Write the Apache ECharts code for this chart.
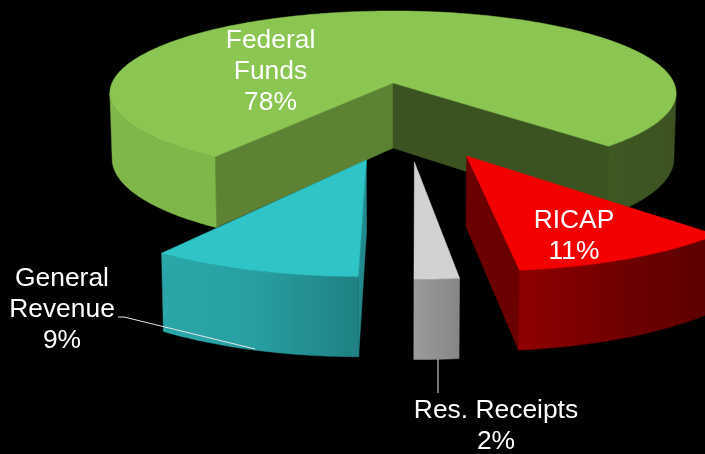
<!DOCTYPE html>
<html><head><meta charset="utf-8">
<style>html,body{margin:0;padding:0;background:#000}#c{width:705px;height:454px}</style>
<script src="https://cdn.jsdelivr.net/npm/echarts@6/dist/echarts.min.js"></script>
</head><body><div id="c"></div>
<script>
// Data: shares (drawn order: back to front)
var categories = ['Federal Funds', 'General Revenue', 'Res. Receipts', 'RICAP'];
var shares = [78.01, 9.49, 2, 10.5];
var labelLines = [['Federal', 'Funds', '78%'], ['General', 'Revenue', '9%'], ['Res. Receipts', '2%'], ['RICAP', '11%']];

// Projection of the pie's plane on the screen
var originX = 393, originY = 83, radiusX = 281, radiusY = 80.8, perspective = 0.122, thickness = 65, thicknessGrowth = 0.8, bottomScale = 0.992;
var lastAngle = 495.6; // clockwise from 12 o'clock
var explode = [[0, 0], [-0.085, 0.854], [0.068, 0.873], [0.236, 0.814]];
var topColors = ['#8bc652', '#2fc4c5', '#d2d2d2', '#f50000'];
var startCut = ['#5d8233', '#22898c', null, null];
var endCut = ['#3b5320', null, null, '#6a0000'];
var wallColors = [
  [[0, '#7fb74a'], [0.2, '#80b74a'], [0.5, '#5d8233'], [0.9, '#3e5722'], [1, '#3c5321']],
  [[0, '#2aa6a9'], [0.45, '#28a0a3'], [1, '#1f8082']],
  [[0, '#9b9b9b'], [1, '#858585']],
  [[0, '#8e0000'], [0.5, '#700000'], [1, '#580000']]
];
var wallSpan = [[108, 675], [162, 360], [414, 462], [521, 720]];
var labelCentres = [[270.5, 72], [62, 310], [496, 426.5], [574, 236.5]];
var leaders = [null, [[118, 317], [124, 317], [255, 349]], [[438, 359], [438, 393]], null];

function project(x, y, lower) {
  var w = 1 - perspective * y;
  var sx = radiusX * x / w * (lower ? bottomScale : 1);
  return [originX + sx, originY + radiusY * y / w + (lower ? thickness * (1 + (1 / w - 1) * thicknessGrowth) : 0)];
}
function rimPoint(deg, off, lower) {
  var r = deg * Math.PI / 180;
  return project(off[0] + Math.sin(r), off[1] - Math.cos(r), lower);
}
function arc(a, b, off, lower) {
  var n = Math.max(2, Math.ceil(Math.abs(b - a))), pts = [];
  for (var i = 0; i <= n; i++) pts.push(rimPoint(a + (b - a) * i / n, off, lower));
  return pts;
}
function cutFace(deg, off) {
  var c = project(off[0], off[1], false), cb = project(off[0], off[1], true);
  return [c, rimPoint(deg, off, false), rimPoint(deg, off, true), cb];
}
function poly(points, fill) {
  return { type: 'polygon', shape: { points: points }, style: { fill: fill, stroke: fill, lineWidth: 0.5 } };
}

var total = shares.reduce(function (s, v) { return s + v; }, 0);
var ends = [];
shares.reduce(function (end, v, i) { ends[i] = end; return end - v / total * 360; }, lastAngle);
// The rim is visible between the ellipse's side tangents, where cos(angle) = -perspective
var tangent = Math.acos(-perspective) * 180 / Math.PI;

function renderItem(params, api) {
  var i = params.dataIndex, off = explode[i];
  var end = ends[i], start = end - api.value(0) / total * 360;
  var kids = [];
  if (startCut[i]) kids.push(poly(cutFace(start, off), startCut[i]));
  if (endCut[i]) kids.push(poly(cutFace(end, off), endCut[i]));
  var stops = wallColors[i].map(function (s) { return { offset: s[0], color: s[1] }; });
  var g = new echarts.graphic.LinearGradient(wallSpan[i][0], 0, wallSpan[i][1], 0, stops, true);
  [0, 360].forEach(function (turn) {
    var a = Math.max(start, tangent + turn), b = Math.min(end, 360 - tangent + turn);
    if (b > a) kids.push(poly(arc(a, b, off, false).concat(arc(a, b, off, true).reverse()), g));
  });
  var c = project(off[0], off[1], false);
  kids.push(poly([c].concat(arc(start, end, off, false)), topColors[i]));
  return { type: 'group', children: kids };
}
function renderLabels(params) {
  var i = params.dataIndex, kids = [];
  if (leaders[i]) kids.push({ type: 'polyline', shape: { points: leaders[i] }, style: { fill: null, stroke: '#e6e6e6', lineWidth: 1 } });
  kids.push({ type: 'text', x: labelCentres[i][0], y: labelCentres[i][1], style: {
    text: labelLines[i].join('\n'), fill: '#ffffff', align: 'center', verticalAlign: 'middle',
    font: '26.4px "Liberation Sans", Arial, sans-serif', lineHeight: 31 } });
  return { type: 'group', children: kids };
}
var chart = echarts.init(document.getElementById('c'), null, { renderer: 'canvas' });
var rows = shares.map(function (v, i) { return { name: categories[i], value: [v] }; });
chart.setOption({
  backgroundColor: '#000000',
  animation: false,
  series: [
    { type: 'custom', coordinateSystem: 'none', renderItem: renderItem, data: rows, z: 1 },
    { type: 'custom', coordinateSystem: 'none', renderItem: renderLabels, data: rows, z: 2 }
  ]
});
</script></body></html>
